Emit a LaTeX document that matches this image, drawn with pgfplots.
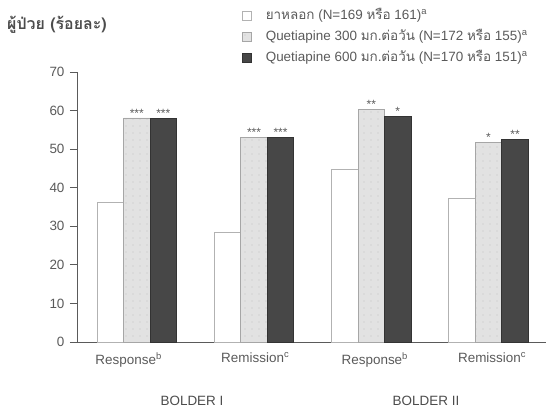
\documentclass[border=0pt]{standalone}
\usepackage{fontspec}
\setmainfont{Liberation Sans}
\newfontfamily\thaifont[Script=Thai]{Loma}
\usepackage{pgfplots}
\pgfplotsset{compat=1.18}
\usetikzlibrary{patterns.meta}
\definecolor{txt}{HTML}{5A5A5A}
\definecolor{darkbar}{HTML}{474747}
\definecolor{lightbar}{HTML}{E2E2E2}
\begin{document}
\begin{tikzpicture}
\path[use as bounding box] (-77bp,-71bp) rectangle (469bp,342bp);
\begin{axis}[
  at={(0,0)}, anchor=south west,
  scale only axis, width=469bp, height=270bp,
  xmin=-0.51, xmax=3.49, ymin=0, ymax=70,
  axis x line=bottom, axis y line=left,
  axis line style={-, draw=txt, line width=1pt},
  ytick={0,10,...,70},
  xtick={-0.07,1.01,2.03,3.03},
  xticklabels={Response\textsuperscript{b},Remission\textsuperscript{c},Response\textsuperscript{b},Remission\textsuperscript{c}},
  x tick style={draw=none},
  y tick style={draw=txt, line width=1pt},
  major tick length=7bp, tick align=outside,
  tick label style={font=\fontsize{13.5}{15}\selectfont, text=txt},
  yticklabel style={xshift=-2bp},
  /pgf/number format/assume math mode=true,
  ybar=0pt, bar width=26.5bp,
  legend style={at={(0.352,1.237)}, anchor=north west, draw=none, fill=none,
    inner sep=0pt, outer sep=0pt,
    font=\fontsize{13.5}{15}\selectfont, text=txt, row sep=5bp,
    nodes={inner sep=2bp, text height=9.5bp, text depth=2.5bp}},
  legend cell align=left,
  legend image code/.code={\draw[#1] (0bp,-4.5bp) rectangle (9bp,4.5bp); \path (21bp,0bp);},
  nodes near coords style={font=\fontsize{12}{12}\selectfont, text=txt, inner sep=0.5pt},
]
\addplot[fill=white, draw=gray!60, line width=0.7pt] coordinates {(0,36.3) (1,28.3) (2,44.8) (3,37.3)};
\addlegendentry{{\thaifont ยาหลอก} (N=169 {\thaifont หรือ} 161)\textsuperscript{a}}
\addplot[fill=lightbar, draw=gray!70, line width=0.7pt,
  postaction={pattern={Dots[distance=7bp, radius=0.45bp]}, pattern color=gray!90},
  point meta=explicit symbolic, nodes near coords]
  coordinates {(0,58.1)[***] (1,53.0)[***] (2,60.2)[**] (3,51.7)[*]};
\addlegendentry{Quetiapine 300 {\thaifont มก.ต่อวัน} (N=172 {\thaifont หรือ} 155)\textsuperscript{a}}
\addplot[fill=darkbar, draw=black!80, line width=0.7pt,
  point meta=explicit symbolic, nodes near coords]
  coordinates {(0,58.0)[***] (1,53.0)[***] (2,58.4)[*] (3,52.6)[**]};
\addlegendentry{Quetiapine 600 {\thaifont มก.ต่อวัน} (N=170 {\thaifont หรือ} 151)\textsuperscript{a}}
\end{axis}
\node[anchor=west, inner sep=0pt, font=\thaifont\bfseries\fontsize{16}{18}\selectfont, text=txt!85!black] at (-70bp,317bp) {ผู้ป่วย (ร้อยละ)};
\node[font=\fontsize{13.5}{15}\selectfont, text=txt!85!black] at (115bp,-59bp) {BOLDER I};
\node[font=\fontsize{13.5}{15}\selectfont, text=txt!85!black] at (349bp,-59bp) {BOLDER II};
\end{tikzpicture}
\end{document}
